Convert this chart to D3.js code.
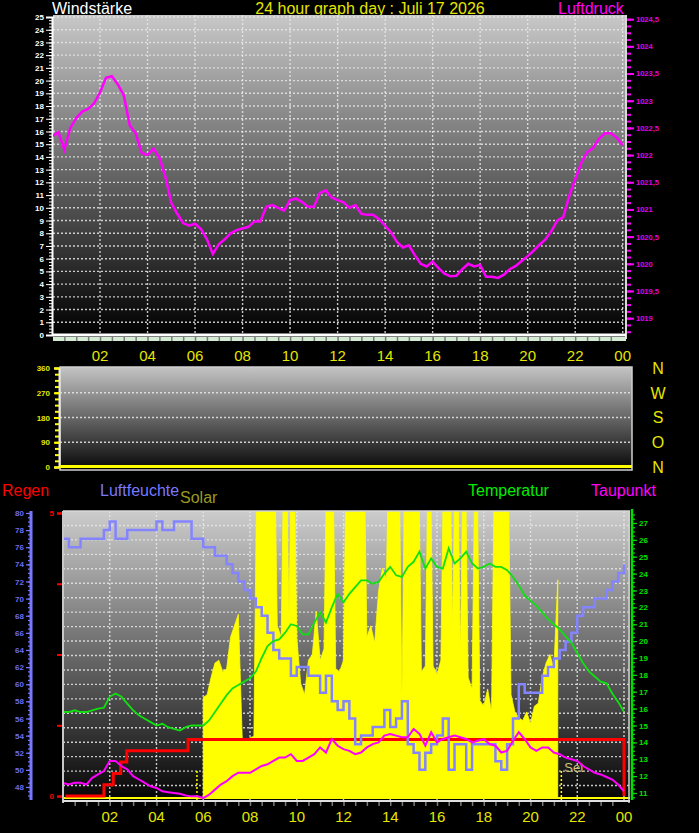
<!DOCTYPE html>
<html>
<head>
<meta charset="utf-8">
<title>24 hour graph day</title>
<style>
  body { margin: 0; background: #000; }
  svg { display: block; font-family: "Liberation Sans", Arial, sans-serif; }
</style>
</head>
<body>
<div id="chart"></div>
<script src="https://d3js.org/d3.v7.min.js"></script>
<script>

// ---- data (15 minute samples from 00:00 to 24:00) ----
const sampleStep = 0.25;

const pressure = [
  1022.35,1022.42,1022.10,1022.50, 1022.68,1022.80,1022.85,1022.95,
  1023.15,1023.42,1023.45,1023.30, 1023.10,1022.55,1022.40,1022.04,
  1022.00,1022.12,1021.95,1021.60, 1021.12,1020.92,1020.75,1020.70,
  1020.74,1020.64,1020.45,1020.18, 1020.36,1020.45,1020.56,1020.62,
  1020.65,1020.68,1020.78,1020.78, 1021.05,1021.08,1021.03,1020.98,
  1021.17,1021.20,1021.14,1021.05, 1021.05,1021.30,1021.35,1021.22,
  1021.17,1021.13,1021.03,1021.08, 1020.92,1020.90,1020.90,1020.82,
  1020.70,1020.58,1020.40,1020.30, 1020.34,1020.16,1020.00,1019.95,
  1020.04,1019.92,1019.82,1019.77, 1019.78,1019.90,1020.00,1019.95,
  1019.98,1019.76,1019.76,1019.74, 1019.80,1019.90,1019.96,1020.05,
  1020.14,1020.24,1020.35,1020.45, 1020.60,1020.80,1020.86,1021.25,
  1021.55,1021.85,1022.05,1022.13, 1022.30,1022.40,1022.40,1022.32,
  1022.18
];

const humidity = [
  77,76,76,77, 77,77,77,78, 79,77,77,78, 78,78,78,78,
  79,78,78,79, 79,79,77,77, 76,76,75,75, 74,73,72,71,
  70,69,68,66, 64,63,63,61, 62,62,61,61, 59,61,58,57,
  58,56,53,54, 54,55,55,57, 55,56,58,53, 52,50,52,53,
  54,56,50,53, 53,50,53,53, 53,53,51,50, 53,56,60,59,
  59,59,61,62, 63,64,65,66, 68,69,69,70, 70,71,72,73,
  74
];

const temperature = [
  15.8,15.8,15.9,15.8, 15.8,15.9,16.0,16.05, 16.7,16.9,16.7,16.3, 15.9,15.6,15.4,15.2,
  15.0,15.1,14.9,14.8, 14.7,14.9,15.0,15.0, 15.0,15.3,15.8,16.3, 16.8,17.2,17.4,17.6,
  17.8,18.2,19.0,19.7, 20.0,20.1,20.5,21.0, 20.9,20.4,20.4,21.1, 21.7,21.1,22.0,22.8,
  22.3,22.8,23.2,23.6, 23.6,23.4,23.5,24.0, 24.4,23.9,23.8,24.4, 24.7,25.3,24.3,24.9,
  24.4,24.3,25.5,24.6, 24.9,25.3,24.6,24.3, 24.4,24.6,24.4,24.4, 24.2,23.8,23.3,22.7,
  22.4,22.1,21.7,21.3, 21.0,20.7,20.3,19.9, 19.3,18.7,18.2,17.9, 17.6,17.5,16.9,16.4,
  15.8
];

const dewpoint = [
  11.6,11.5,11.6,11.6, 11.5,11.9,12.1,12.3, 12.9,12.9,12.6,12.4, 12.0,11.8,11.6,11.4,
  11.3,11.1,11.05,11.0, 10.95,10.85,10.8,10.8, 10.7,10.9,11.2,11.5, 11.7,12.0,12.2,12.2,
  12.2,12.4,12.6,12.7, 12.9,13.1,13.1,13.3, 12.9,12.9,13.1,13.3, 13.7,13.4,14.2,13.8,
  13.6,13.5,13.3,13.4, 13.7,13.9,14.0,14.4, 14.5,14.4,14.3,14.3, 14.8,14.5,13.8,14.6,
  14.0,14.2,14.3,14.4, 14.3,14.2,14.0,14.1, 14.2,13.9,13.8,13.4, 13.5,14.1,14.6,14.2,
  13.7,13.5,13.7,13.7, 13.4,13.3,13.1,13.0, 12.9,12.6,12.4,12.2, 12.1,11.95,11.8,11.5,
  11.1
];

// solar radiation, 10 minute samples from 06:00 (values above the scale top are clipped)
const solarStart = 6.0;
const solarStep = 1 / 6;
const solar = [
  350,360,420,470,480,440, 450,560,600,640,210,200,
  210,215,1500,1500,1500,1500, 1500,600,560,1500,640,1500,
  560,400,360,480,500,650, 480,520,1500,1500,450,440,
  480,1500,1500,1500,1500,1500, 560,600,540,720,800,760,
  1500,1500,1500,360,1500,1500, 1500,1500,440,460,1500,460,
  430,480,1500,1500,600,1500, 500,1500,420,380,1500,340,
  320,380,300,1500,1500,1500, 1500,360,300,280,270,300,
  260,320,330,420,470,500, 450,760
];

// rain (daily total), step changes
const rainHours = [0.1, 1.75, 2.15, 2.47, 2.73, 5.35, 24.0];
const rainMm    = [0,   0.2,  0.4,  0.6,  0.8,  1.0,  0];

// wind: calm all day
const windHours = [0, 24];
const windSpeed = [0, 0];
const windDir   = [0, 0];

// sunrise / sunset
const sunHours  = [5.73, 21.32];
const sunLabels = ["", "Set"];

// tick labels
const hourTicks  = [2, 4, 6, 8, 10, 12, 14, 16, 18, 20, 22, 24];
const hourLabels = ["02","04","06","08","10","12","14","16","18","20","22","00"];
const pressTicks  = [1019, 1019.5, 1020, 1020.5, 1021, 1021.5, 1022, 1022.5, 1023, 1023.5, 1024, 1024.5];
const pressLabels = ["1019","1019,5","1020","1020,5","1021","1021,5","1022","1022,5","1023","1023,5","1024","1024,5"];
const dirTicks   = [0, 90, 180, 270, 360];
const compassLabels = ["N", "O", "S", "W", "N"];
const rainTicks  = [0, 5];

// ---- layout ----
const W = 699, H = 833;
const topP = {left: 53, right: 626, top: 15, bottom: 335};
const midP = {left: 60, right: 632, top: 367, bottom: 467};
const botP = {left: 63, right: 630, top: 511, bottom: 800};

const svg = d3.select("#chart").append("svg").attr("width", W).attr("height", H);
svg.append("rect").attr("width", W).attr("height", H).attr("fill", "#000");

const defs = svg.append("defs");
function gradient(id, c0, c1) {
  const g = defs.append("linearGradient").attr("id", id)
    .attr("x1", 0).attr("y1", 0).attr("x2", 0).attr("y2", 1);
  g.append("stop").attr("offset", "0%").attr("stop-color", c0);
  g.append("stop").attr("offset", "100%").attr("stop-color", c1);
}
gradient("gTop", "#c8c8c8", "#000000");
gradient("gMid", "#c4c4c4", "#0c0c0c");
gradient("gBot", "#cccccc", "#050505");

function clip(id, p) {
  defs.append("clipPath").attr("id", id).append("rect")
    .attr("x", p.left).attr("y", p.top)
    .attr("width", p.right - p.left).attr("height", p.bottom - p.top);
}
clip("cTop", topP); clip("cMid", midP); clip("cBot", botP);

function background(p, g) {
  svg.append("rect").attr("x", p.left).attr("y", p.top)
    .attr("width", p.right - p.left).attr("height", p.bottom - p.top)
    .attr("fill", `url(#${g})`);
}

const dotted = sel => sel.attr("stroke", "#e8e8e8").attr("stroke-width", 1.4)
  .attr("stroke-dasharray", "2,2").attr("opacity", 0.85);

const hoursOf = arr => arr.map((_, i) => i * sampleStep);
const sampleHours = hoursOf(pressure);
const solarHours = solar.map((_, i) => solarStart + i * solarStep);
const halfHours = d3.range(0.5, 24, 0.5);

// ---- titles ----
function label(x, y, text, color, size, anchor) {
  svg.append("text").attr("x", x).attr("y", y).text(text)
    .attr("fill", color).attr("font-size", size).attr("text-anchor", anchor || "start");
}
label(52, 14, "Windstärke", "#ffffff", 16);
label(370, 14, "24 hour graph day : Juli 17 2026", "#e6e600", 16, "middle");
label(558, 14, "Luftdruck", "#ff00ff", 16);

label(2, 496, "Regen", "#ff0000", 16);
label(100, 496, "Luftfeuchte", "#7878ff", 16);
label(180, 503, "Solar", "#9a9a22", 16);
label(468, 496, "Temperatur", "#00ee00", 16);
label(591, 496, "Taupunkt", "#ff00ff", 16);

// ================= TOP PANEL: wind speed + pressure =================
const xTop = d3.scaleLinear().domain([0, 24]).range([52.5, 622.7]);
const yWind = d3.scaleLinear().domain([0, 25]).range([335, 17]);
const yPress = d3.scaleLinear().domain([1018.69, 1024.54]).range([335, 17]);

background(topP, "gTop");
svg.append("g").selectAll("line").data(d3.range(1, 26)).join("line")
  .attr("x1", topP.left).attr("x2", topP.right)
  .attr("y1", d => yWind(d)).attr("y2", d => yWind(d)).call(dotted);
svg.append("g").selectAll("line").data(hourTicks).join("line")
  .attr("x1", d => xTop(d)).attr("x2", d => xTop(d))
  .attr("y1", topP.top).attr("y2", topP.bottom).call(dotted);
svg.append("line").attr("x1", topP.right).attr("x2", topP.right)
  .attr("y1", topP.top).attr("y2", topP.bottom + 4)
  .attr("stroke", "#d8d8d8").attr("stroke-width", 2);

// x band + half hour ticks
svg.append("rect").attr("x", topP.left).attr("y", 337).attr("width", topP.right - topP.left)
  .attr("height", 4).attr("fill", "#d4ecd4");
svg.append("g").attr("transform", "translate(0,337)")
  .call(d3.axisBottom(xTop).tickValues(halfHours).tickSize(4).tickFormat(""))
  .call(g => g.select(".domain").remove())
  .call(g => g.selectAll("line").attr("stroke", "#7a7a7a").attr("stroke-width", 1.5));
svg.append("g").selectAll("text").data(hourTicks).join("text")
  .attr("x", d => xTop(d)).attr("y", 361).attr("text-anchor", "middle")
  .attr("font-size", 15).attr("fill", "#e6e600").text((d, i) => hourLabels[i]);

// left axis (wind)
svg.append("g").attr("transform", "translate(52,0)")
  .call(d3.axisLeft(yWind).tickValues(d3.range(0, 25.01, 0.25)).tickSize(3).tickFormat(""))
  .call(g => g.select(".domain").remove())
  .call(g => g.selectAll("line").attr("stroke", "#ffffff"));
svg.append("g").attr("transform", "translate(52,0)")
  .call(d3.axisLeft(yWind).tickValues(d3.range(0, 26)).tickSize(6).tickPadding(2))
  .call(g => g.select(".domain").attr("stroke", "#ffffff").attr("stroke-width", 2))
  .call(g => g.selectAll("line").attr("stroke", "#ffffff"))
  .call(g => g.selectAll("text").attr("fill", "#ffffff").attr("font-size", 8)
    .attr("font-weight", "bold").attr("font-family", "Liberation Sans, Arial"));

// right axis (pressure)
svg.append("g").attr("transform", "translate(627,0)")
  .call(d3.axisRight(yPress).tickValues(d3.range(1018.75, 1024.55, 0.125)).tickSize(4).tickFormat(""))
  .call(g => g.select(".domain").remove())
  .call(g => g.selectAll("line").attr("stroke", "#ff00ff").attr("stroke-width", 2));
svg.append("g").attr("transform", "translate(627,0)")
  .call(d3.axisRight(yPress).tickValues(pressTicks).tickSize(7).tickPadding(2)
    .tickFormat((d, i) => pressLabels[i]))
  .call(g => g.select(".domain").remove())
  .call(g => g.selectAll("line").attr("stroke", "#ff00ff").attr("stroke-width", 2))
  .call(g => g.selectAll("text").attr("fill", "#e000e0").attr("font-size", 7.5)
    .attr("font-weight", "bold").attr("font-family", "Liberation Sans, Arial"));

const topG = svg.append("g").attr("clip-path", "url(#cTop)");
topG.append("path").datum(pressure)
  .attr("fill", "none").attr("stroke", "#ff00ff").attr("stroke-width", 2.5)
  .attr("d", d3.line().x((d, i) => xTop(sampleHours[i])).y(d => yPress(d)));
svg.append("path").datum(windSpeed)
  .attr("fill", "none").attr("stroke", "#ffffff").attr("stroke-width", 3)
  .attr("d", d3.line().x((d, i) => xTop(windHours[i]) + (i ? 3.3 : 0.5)).y(d => yWind(d)));

// ================= MIDDLE PANEL: wind direction =================
const xMid = d3.scaleLinear().domain([0, 24]).range([60, 632]);
const yDir = d3.scaleLinear().domain([0, 360]).range([467, 368]);

background(midP, "gMid");
svg.append("g").selectAll("line").data([90, 180, 270]).join("line")
  .attr("x1", midP.left).attr("x2", midP.right)
  .attr("y1", d => yDir(d)).attr("y2", d => yDir(d)).call(dotted);
svg.append("rect").attr("x", midP.left).attr("y", midP.top).attr("width", midP.right - midP.left)
  .attr("height", midP.bottom - midP.top + 3).attr("fill", "none")
  .attr("stroke", "#d0d0d0").attr("stroke-width", 1.5);

svg.append("g").attr("transform", "translate(59,0)")
  .call(d3.axisLeft(yDir).tickValues(d3.range(0, 360.1, 22.5)).tickSize(4).tickFormat(""))
  .call(g => g.select(".domain").remove())
  .call(g => g.selectAll("line").attr("stroke", "#ffff00").attr("stroke-width", 2));
svg.append("g").attr("transform", "translate(59,0)")
  .call(d3.axisLeft(yDir).tickValues(dirTicks).tickSize(5).tickPadding(4))
  .call(g => g.select(".domain").attr("stroke", "#e8e8e8").attr("stroke-width", 2))
  .call(g => g.selectAll("line").attr("stroke", "#ffff00").attr("stroke-width", 2))
  .call(g => g.selectAll("text").attr("fill", "#e6e600").attr("font-size", 8)
    .attr("font-weight", "bold").attr("font-family", "Liberation Sans, Arial"));
svg.append("g").selectAll("text").data(dirTicks).join("text")
  .attr("x", 658).attr("y", d => yDir(d)).attr("dy", "0.36em").attr("text-anchor", "middle")
  .attr("font-size", 16).attr("fill", "#e6e600").text((d, i) => compassLabels[i]);

svg.append("path").datum(windDir)
  .attr("fill", "none").attr("stroke", "#ffff00").attr("stroke-width", 3)
  .attr("d", d3.line().x((d, i) => xMid(windHours[i])).y(d => yDir(d) - 0.5));

// ================= BOTTOM PANEL =================
const xBot = d3.scaleLinear().domain([0, 24]).range([63, 624]);
const yHum = d3.scaleLinear().domain([46.48, 80.23]).range([800, 511]);
const yTemp = d3.scaleLinear().domain([10.585, 27.71]).range([800, 511]);
const yRain = d3.scaleLinear().domain([-0.07, 5.035]).range([800, 511]);
const ySolar = d3.scaleLinear().domain([0, 1000]).range([798, 511]);
const yGrid = d3.scaleLinear().domain([0, 20]).range([800, 511]);

background(botP, "gBot");
svg.append("g").selectAll("line").data(d3.range(1, 20)).join("line")
  .attr("x1", botP.left).attr("x2", botP.right)
  .attr("y1", d => yGrid(d)).attr("y2", d => yGrid(d)).call(dotted);
svg.append("g").selectAll("line").data(hourTicks).join("line")
  .attr("x1", d => xBot(d)).attr("x2", d => xBot(d))
  .attr("y1", botP.top).attr("y2", botP.bottom).call(dotted);

const botG = svg.append("g").attr("clip-path", "url(#cBot)");

// solar
botG.append("line").attr("x1", botP.left).attr("x2", botP.right)
  .attr("y1", ySolar(0)).attr("y2", ySolar(0))
  .attr("stroke", "#ffff00").attr("stroke-width", 2);
botG.append("path").datum(solar)
  .attr("fill", "#ffff00").attr("stroke", "#ffff00").attr("stroke-width", 0.8)
  .attr("d", d3.area()
    .x((d, i) => xBot(solarHours[i])).y0(ySolar(0)).y1(d => ySolar(d)));

// sunrise / sunset markers
botG.append("g").selectAll("line").data(sunHours).join("line")
  .attr("x1", d => xBot(d)).attr("x2", d => xBot(d))
  .attr("y1", 771).attr("y2", botP.bottom)
  .attr("stroke", "#ffff00").attr("stroke-width", 1.5).attr("stroke-dasharray", "2,2");
botG.append("g").selectAll("text").data(sunHours).join("text")
  .attr("x", d => xBot(d) + 3).attr("y", 772).attr("font-size", 13)
  .attr("fill", "#cfc27a").text((d, i) => sunLabels[i]);

// rain
botG.append("path").datum(rainMm)
  .attr("fill", "none").attr("stroke", "#ff0000").attr("stroke-width", 3)
  .attr("d", d3.line().curve(d3.curveStepAfter)
    .x((d, i) => xBot(rainHours[i])).y(d => yRain(d)));

// humidity
botG.append("path").datum(humidity)
  .attr("fill", "none").attr("stroke", "#8484ff").attr("stroke-width", 2.5)
  .attr("d", d3.line().curve(d3.curveStepAfter)
    .x((d, i) => xBot(sampleHours[i])).y(d => yHum(d)));

// temperature
botG.append("path").datum(temperature)
  .attr("fill", "none").attr("stroke", "#10e010").attr("stroke-width", 1.8)
  .attr("d", d3.line().x((d, i) => xBot(sampleHours[i])).y(d => yTemp(d)));

// dew point
botG.append("path").datum(dewpoint)
  .attr("fill", "none").attr("stroke", "#ff00ff").attr("stroke-width", 2)
  .attr("d", d3.line().x((d, i) => xBot(sampleHours[i])).y(d => yTemp(d)));

// frame
svg.append("line").attr("x1", botP.left).attr("x2", botP.left).attr("y1", botP.top).attr("y2", botP.bottom + 3)
  .attr("stroke", "#c8c8c8").attr("stroke-width", 2);
svg.append("line").attr("x1", botP.left).attr("x2", botP.right).attr("y1", botP.top).attr("y2", botP.top)
  .attr("stroke", "#d8d8d8").attr("stroke-width", 1.5);
svg.append("line").attr("x1", botP.right - 1).attr("x2", botP.right - 1).attr("y1", botP.top).attr("y2", botP.bottom + 3)
  .attr("stroke", "#d0d0d0").attr("stroke-width", 1.5);
svg.append("line").attr("x1", botP.left).attr("x2", botP.right).attr("y1", botP.bottom + 1).attr("y2", botP.bottom + 1)
  .attr("stroke", "#e0e0e0").attr("stroke-width", 2);
svg.append("g").attr("transform", `translate(0,${botP.bottom + 2})`)
  .call(d3.axisBottom(xBot).tickValues(halfHours).tickSize(4).tickFormat(""))
  .call(g => g.select(".domain").remove())
  .call(g => g.selectAll("line").attr("stroke", "#7a7a7a").attr("stroke-width", 1.5));
svg.append("g").selectAll("text").data(hourTicks).join("text")
  .attr("x", d => xBot(d)).attr("y", 822).attr("text-anchor", "middle")
  .attr("font-size", 15).attr("fill", "#e6e600").text((d, i) => hourLabels[i]);

// humidity axis (far left)
svg.append("g").attr("transform", "translate(31,0)")
  .call(d3.axisLeft(yHum).tickValues(d3.range(47, 80.1, 0.5)).tickSize(3).tickFormat(""))
  .call(g => g.select(".domain").remove())
  .call(g => g.selectAll("line").attr("stroke", "#7878ff").attr("stroke-width", 1.2));
svg.append("g").attr("transform", "translate(31,0)")
  .call(d3.axisLeft(yHum).tickValues(d3.range(48, 80.1, 2)).tickSize(5).tickPadding(2))
  .call(g => g.select(".domain").attr("stroke", "#7878ff").attr("stroke-width", 3)
    .attr("d", `M0,${botP.top}V${botP.bottom}`))
  .call(g => g.selectAll("line").attr("stroke", "#7878ff").attr("stroke-width", 1.2))
  .call(g => g.selectAll("text").attr("fill", "#6c6cf0").attr("font-size", 8)
    .attr("font-weight", "bold").attr("font-family", "Liberation Sans, Arial"));

// rain axis
svg.append("g").attr("transform", "translate(62,0)")
  .call(d3.axisLeft(yRain).tickValues(d3.range(0, 5.01, 1.25)).tickSize(5).tickFormat(""))
  .call(g => g.select(".domain").remove())
  .call(g => g.selectAll("line").attr("stroke", "#ff0000").attr("stroke-width", 2));
svg.append("g").attr("transform", "translate(62,0)")
  .call(d3.axisLeft(yRain).tickValues(rainTicks).tickSize(5).tickPadding(3).tickFormat(d3.format("d")))
  .call(g => g.select(".domain").remove())
  .call(g => g.selectAll("line").attr("stroke", "#ff0000").attr("stroke-width", 2))
  .call(g => g.selectAll("text").attr("fill", "#ff0000").attr("font-size", 8)
    .attr("font-weight", "bold").attr("font-family", "Liberation Sans, Arial"));

// temperature axis (right)
svg.append("g").attr("transform", "translate(632,0)")
  .call(d3.axisRight(yTemp).tickValues(d3.range(10.75, 27.6, 0.25)).tickSize(3).tickFormat(""))
  .call(g => g.select(".domain").remove())
  .call(g => g.selectAll("line").attr("stroke", "#00dd00").attr("stroke-width", 1.2));
svg.append("g").attr("transform", "translate(632,0)")
  .call(d3.axisRight(yTemp).tickValues(d3.range(11, 27.1, 1)).tickSize(5).tickPadding(2))
  .call(g => g.select(".domain").attr("stroke", "#00dd00").attr("stroke-width", 2.5)
    .attr("d", `M0,${botP.top - 2}V${botP.bottom}`))
  .call(g => g.selectAll("line").attr("stroke", "#00dd00").attr("stroke-width", 1.2))
  .call(g => g.selectAll("text").attr("fill", "#00e000").attr("font-size", 8)
    .attr("font-weight", "bold").attr("font-family", "Liberation Sans, Arial"));

</script>
</body>
</html>
